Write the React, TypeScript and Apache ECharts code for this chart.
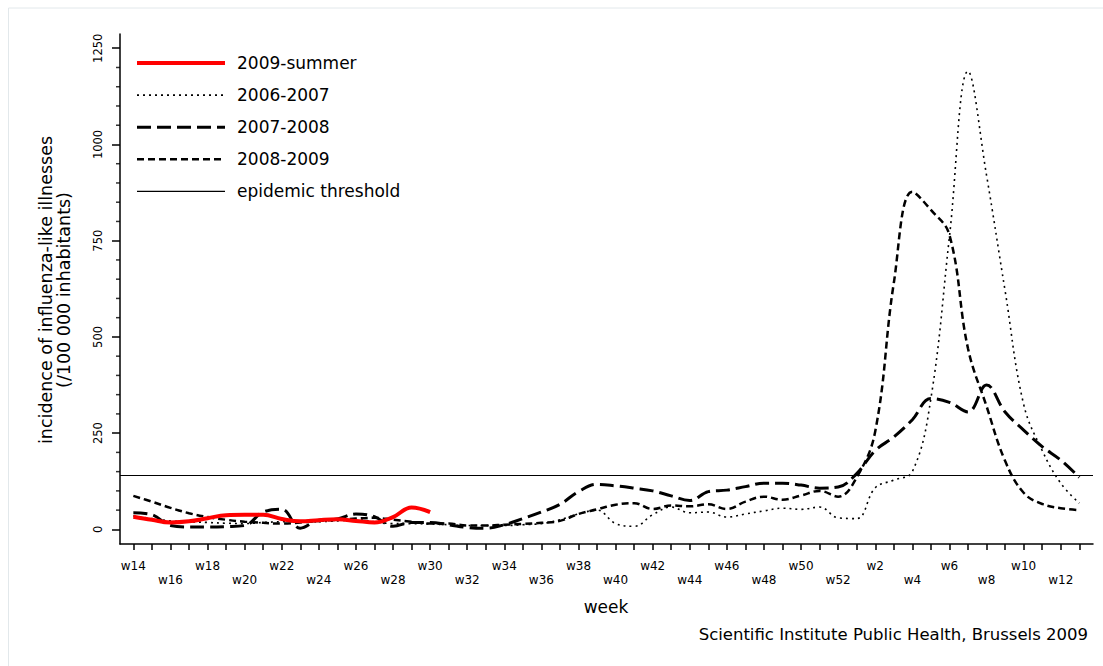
import React, { useEffect, useRef } from "react";
import * as echarts from "echarts";

const weeks = [
  "w14", "w15", "w16", "w17", "w18", "w19", "w20", "w21", "w22", "w23",
  "w24", "w25", "w26", "w27", "w28", "w29", "w30", "w31", "w32", "w33",
  "w34", "w35", "w36", "w37", "w38", "w39", "w40", "w41", "w42", "w43",
  "w44", "w45", "w46", "w47", "w48", "w49", "w50", "w51", "w52", "w1",
  "w2", "w3", "w4", "w5", "w6", "w7", "w8", "w9", "w10", "w11", "w12", "w13",
];

const summer2009 = [33, 25, 18, 21, 29, 37, 38, 38, 27, 21, 24, 26, 22, 18, 32, 57, 45];

const season0607 = [
  35, 28, 22, 20, 18, 16, 15, 18, 20, 22,
  20, 22, 25, 20, 15, 15, 14, 12, 10, 10,
  10, 12, 15, 25, 40, 50, 15, 8, 38, 58,
  43, 45, 32, 40, 48, 55, 52, 58, 30, 28,
  108, 128, 150, 340, 760, 1190, 920, 620, 325, 205, 120, 68,
];

const season0708 = [
  43, 38, 10, 6, 6, 7, 10, 45, 52, 3,
  24, 27, 40, 33, 8, 18, 18, 12, 5, 3,
  12, 28, 45, 65, 98, 117, 113, 107, 100, 87,
  75, 98, 102, 111, 120, 120, 115, 107, 110, 145,
  205, 240, 285, 340, 330, 305, 375, 305, 258, 215, 180, 135,
];

const season0809 = [
  87, 72, 56, 42, 32, 25, 20, 17, 15, 18,
  22, 25, 28, 30, 25, 20, 15, 15, 10, 10,
  12, 14, 17, 22, 40, 52, 64, 68, 53, 62,
  60, 65, 53, 72, 85, 77, 88, 100, 85, 135,
  255, 640, 877, 830, 765, 470, 320, 178, 95, 66, 55, 50,
];

const threshold = 140;
const yMajorTicks = [0, 250, 500, 750, 1000, 1250];
const yMinorTicks = [50, 100, 150, 200, 300, 350, 400, 450, 550, 600, 650, 700, 800, 850, 900, 950, 1050, 1100, 1150, 1200];

const seriesNames = ["2009-summer", "2006-2007", "2007-2008", "2008-2009", "epidemic threshold"];

const FONT = "DejaVu Sans";
const X_MIN = -0.72;
const X_MAX = 51.74;
const Y_MIN = -38;
const Y_MAX = 1287;

const toPoints = (arr: number[]) => arr.map((v, i) => [i, v]);

export default function App() {
  const ref = useRef<HTMLDivElement>(null);

  useEffect(() => {
    document.body.style.margin = "0";
    if (!ref.current) return;
    const chart = echarts.init(ref.current, null, { renderer: "svg" });

    const allIdx = weeks.map((_, i) => i);
    const evenIdx = allIdx.filter((i) => i % 2 === 0);

    const option: any = {
      animation: false,
      backgroundColor: "#ffffff",
      grid: { left: 120, top: 34, right: 10, bottom: 122 },
      legend: {
        orient: "vertical",
        left: 135,
        top: 54.5,
        padding: 0,
        itemWidth: 88,
        itemHeight: 14,
        itemGap: 15.1,
        selectedMode: false,
        data: seriesNames,
        itemStyle: { opacity: 0 },
        lineStyle: { width: "inherit", opacity: 1 },
        textStyle: { fontFamily: FONT, fontSize: 17, lineHeight: 14, color: "#000", padding: [0, 0, 0, 7] },
      },
      xAxis: {
        type: "value",
        min: X_MIN,
        max: X_MAX,
        axisLine: { show: true, onZero: false, lineStyle: { color: "#000", width: 1.5 } },
        axisTick: { show: true, customValues: allIdx, length: 6, lineStyle: { color: "#000", width: 1.5 } },
        axisLabel: {
          customValues: evenIdx,
          margin: 15,
          fontFamily: FONT,
          fontSize: 12,
          lineHeight: 14,
          color: "#000",
          formatter: (v: number) => {
            const i = Math.round(v);
            const label = weeks[i];
            return (i / 2) % 2 === 0 ? label : "\n" + label;
          },
        },
        splitLine: { show: false },
      },
      yAxis: {
        type: "value",
        min: Y_MIN,
        max: Y_MAX,
        position: "left",
        axisLine: { show: true, onZero: false, lineStyle: { color: "#000", width: 1.5 } },
        axisTick: { show: true, customValues: yMajorTicks, length: 8, lineStyle: { color: "#000", width: 1.5 } },
        axisLabel: {
          customValues: yMajorTicks,
          rotate: 90,
          margin: 16,
          fontFamily: FONT,
          fontSize: 11.5,
          color: "#000",
          formatter: (v: number) => String(v),
        },
        splitLine: { show: false },
      },
      series: [
        {
          name: "2009-summer",
          type: "line",
          data: toPoints(summer2009),
          symbol: "none",
          smooth: 0.4,
          z: 5,
          color: "#ff0000",
          lineStyle: { color: "#ff0000", width: 4 },
        },
        {
          name: "2006-2007",
          type: "line",
          data: toPoints(season0607),
          symbol: "none",
          smooth: 0.4,
          color: "#000",
          lineStyle: { color: "#000", width: 1.6, type: [2, 4] },
        },
        {
          name: "2007-2008",
          type: "line",
          data: toPoints(season0708),
          symbol: "none",
          smooth: 0.4,
          color: "#000",
          lineStyle: { color: "#000", width: 3, type: [14, 6] },
        },
        {
          name: "2008-2009",
          type: "line",
          data: toPoints(season0809),
          symbol: "none",
          smooth: 0.4,
          color: "#000",
          lineStyle: { color: "#000", width: 2.5, type: [7, 4] },
        },
        {
          name: "epidemic threshold",
          type: "line",
          data: [[X_MIN, threshold], [X_MAX, threshold]],
          symbol: "none",
          color: "#000",
          lineStyle: { color: "#000", width: 1.2 },
        },
        {
          name: "minor ticks",
          type: "scatter",
          data: yMinorTicks.map((v) => [X_MIN, v]),
          symbol: "rect",
          symbolSize: [4, 1.5],
          symbolOffset: [-2, 0],
          clip: false,
          silent: true,
          itemStyle: { color: "#000" },
          z: 6,
        },
      ],
      graphic: [
        { type: "line", shape: { x1: 8.5, y1: 8, x2: 1103, y2: 8 }, style: { stroke: "#e2e8eb", lineWidth: 1 } },
        { type: "line", shape: { x1: 8.5, y1: 8, x2: 8.5, y2: 666 }, style: { stroke: "#e2e8eb", lineWidth: 1 } },
        {
          type: "text",
          x: 55,
          y: 290,
          rotation: Math.PI / 2,
          style: {
            text: "incidence of influenza-like illnesses\n(/100 000 inhabitants)",
            fontFamily: FONT,
            fontSize: 17.5,
            lineHeight: 18,
            fill: "#000",
            align: "center",
            verticalAlign: "middle",
          },
        },
        {
          type: "text",
          x: 606,
          y: 607,
          style: { text: "week", fontFamily: FONT, fontSize: 17, fill: "#000", align: "center", verticalAlign: "middle" },
        },
        {
          type: "text",
          x: 1088,
          y: 634,
          style: {
            text: "Scientific Institute Public Health, Brussels 2009",
            fontFamily: FONT,
            fontSize: 16.5,
            fill: "#000",
            align: "right",
            verticalAlign: "middle",
          },
        },
      ],
    };

    chart.setOption(option);
    return () => chart.dispose();
  }, []);

  return <div ref={ref} style={{ width: 1103, height: 666 }} />;
}
